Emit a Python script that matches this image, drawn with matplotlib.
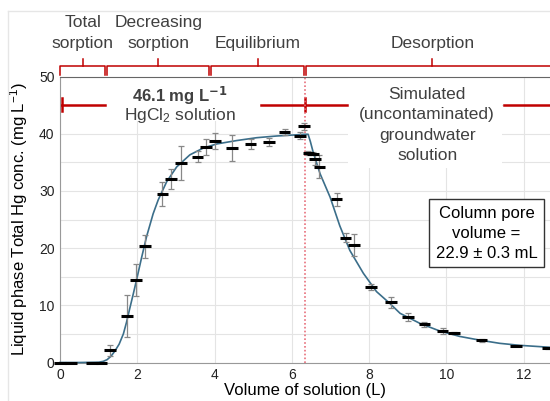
import matplotlib
matplotlib.use("Agg")
import matplotlib.pyplot as plt
from matplotlib.patches import Rectangle
from matplotlib.lines import Line2D

plt.rcParams['font.family'] = ['Liberation Sans', 'DejaVu Sans']
plt.rcParams['mathtext.default'] = 'regular'

# measured effluent concentrations (volume in L, conc. in mg/L)
vol = [0.0, 0.29, 0.83, 1.07, 1.29, 1.74, 1.97, 2.2, 2.65, 2.87, 3.13, 3.56, 3.78,
       4.01, 4.45, 4.93, 5.41, 5.81, 6.21, 6.32, 6.43, 6.55, 6.6, 6.71, 7.16,
       7.39, 7.61, 8.05, 8.56, 9.0, 9.43, 9.9, 10.19, 10.91, 11.8, 12.63]
conc = [0.0, 0.0, 0.0, 0.0, 2.1, 8.1, 14.4, 20.3, 29.4, 32.1, 34.9, 36.0, 37.7,
        38.7, 37.5, 38.2, 38.5, 40.3, 39.65, 41.3, 36.6, 36.5, 35.5, 34.2, 28.5,
        21.85, 20.6, 13.2, 10.5, 7.95, 6.65, 5.5, 5.1, 3.87, 2.9, 2.5]
conc_err = [0.0, 0.0, 0.0, 0.0, 1.0, 3.7, 2.8, 2.0, 2.1, 1.8, 3.0, 0.9, 1.4,
            1.45, 2.3, 0.8, 0.7, 0.5, 0.6, 0.6, 0.3, 0.3, 1.0, 2.0, 1.2,
            0.8, 1.9, 0.6, 1.0, 0.7, 0.5, 0.6, 0.2, 0.2, 0.1, 0.1]
vol_err = 0.15

# fitted breakthrough / desorption curve
fit_vol = [0.0, 0.5, 1.0, 1.12, 1.22, 1.32, 1.42, 1.53, 1.64, 1.72, 1.8, 1.9,
           2.0, 2.11, 2.24, 2.41, 2.54, 2.76, 3.02, 3.36, 3.71, 4.05, 4.57,
           5.09, 5.61, 6.12, 6.34, 6.42, 6.48, 6.55, 6.73, 6.99, 7.24, 7.5,
           7.85, 8.19, 8.54, 8.8, 9.31, 9.83, 10.35, 10.87, 11.38, 11.9, 12.7]
fit_conc = [0.0, 0.0, 0.05, 0.2, 0.5, 1.1, 2.0, 3.2, 5.0, 7.0, 9.3, 12.1,
            15.0, 18.3, 22.0, 26.0, 28.4, 31.6, 34.2, 36.3, 37.5, 38.2, 38.8,
            39.3, 39.6, 39.8, 39.9, 39.9, 38.6, 36.8, 33.0, 28.9, 23.9, 19.6,
            15.6, 12.4, 10.3, 8.6, 6.85, 5.5, 4.55, 3.9, 3.35, 3.0, 2.65]

# experiment phases
phase_names = ['Total\nsorption', 'Decreasing\nsorption', 'Equilibrium', 'Desorption']
phase_start = [0.0, 1.22, 3.92, 6.37]
phase_end = [1.17, 3.86, 6.31, 12.9]
switch_vol = 6.34
influent_level = 45.1

red = '#c00000'
fig = plt.figure(figsize=(5.5, 4.01), dpi=100)
ax = fig.add_axes([60 / 550, 1 - 362.5 / 401, 490 / 550, 286 / 401])
ax.set_xlim(0, 12.68)
ax.set_ylim(0, 50)

ax.set_xticks(range(0, 13, 2))
ax.set_yticks(range(0, 51, 10))
ax.set_yticks(range(5, 50, 10), minor=True)
ax.grid(True, which='both', color='#e4e4e4', lw=0.8, zorder=0)
ax.set_axisbelow(True)
ax.tick_params(length=0, labelsize=10, colors='#222222', pad=4)
ax.tick_params(which='minor', length=0)
for s in ['left', 'bottom']:
    ax.spines[s].set_color('#999999')
ax.spines['top'].set_color('#666666')
ax.spines['right'].set_visible(False)

ax.set_xlabel('Volume of solution (L)', fontsize=12, labelpad=1)
ax.set_ylabel('Liquid phase Total Hg conc. (mg L$^{-1}$)', fontsize=12, labelpad=6)

# white panels behind the annotations
ax.add_patch(Rectangle((1.16, 42.3), 4.04, 7.7, fc='white', ec='none', zorder=1))
ax.add_patch(Rectangle((7.45, 34.0), 4.0, 16.0, fc='white', ec='none', zorder=1))

# influent / groundwater line
ax.plot([0, 1.16], [influent_level] * 2, color=red, lw=1.8, zorder=2)
ax.plot([5.2, 7.43], [influent_level] * 2, color=red, lw=1.8, zorder=2)
ax.plot([11.5, 12.68], [influent_level] * 2, color=red, lw=1.8, zorder=2)
for xv in [0.05, switch_vol]:
    ax.plot([xv, xv], [influent_level - 1.2, influent_level + 1.2], color=red, lw=1.8, zorder=2)

ax.axvline(switch_vol, color='#e8707c', lw=1.2, ls=(0, (1, 1.3)), zorder=2)

ax.text(3.1, 46.7, '46.1 mg L$^{\\mathbf{-1}}$', fontsize=12, fontweight='bold',
        color='#404040', ha='center', va='center', zorder=3)
ax.text(3.1, 43.1, 'HgCl$_2$ solution', fontsize=12.5, color='#404040',
        ha='center', va='center', zorder=3)
ax.text(9.5, 41.5, 'Simulated\n(uncontaminated)\ngroundwater\nsolution', fontsize=12.5,
        color='#404040', ha='center', va='center', linespacing=1.45, zorder=3)

ax.text(11.04, 22.6, 'Column pore\nvolume =\n22.9 \u00b1 0.3 mL', fontsize=12, color='black',
        ha='center', va='center', linespacing=1.4, zorder=5,
        bbox=dict(boxstyle='square,pad=0.4', fc='white', ec='#333333', lw=1.0))

ax.plot(fit_vol, fit_conc, color='#3b6e8a', lw=1.2, zorder=3, clip_on=False)
ax.errorbar(vol, conc, yerr=conc_err, fmt='none', ecolor='#888888', elinewidth=0.9,
            capsize=2, capthick=0.9, zorder=4)
eb = ax.errorbar(vol, conc, xerr=vol_err, fmt='none', ecolor='black', elinewidth=2.2,
                 zorder=4)
for c in eb[2]:
    c.set_clip_on(False)

# phase brackets above the plot
for name, a, b in zip(phase_names, phase_start, phase_end):
    mid = (a + b) / 2
    ax.plot([a, a, b, b], [50.3, 51.75, 51.75, 50.3], color=red, lw=1.1, clip_on=False)
    ax.plot([mid, mid], [51.75, 53.1], color=red, lw=1.1, clip_on=False)
    ax.text(mid, 54.4, name, fontsize=12.5, color='#404040', ha='center', va='bottom',
            linespacing=1.5, clip_on=False)

# light frame round the figure
fig.add_artist(Line2D([7.5 / 550, 7.5 / 550], [0, 1 - 11 / 401], color='#e6e6e6', lw=1))
fig.add_artist(Line2D([7.5 / 550, 1], [1 - 11 / 401, 1 - 11 / 401], color='#e6e6e6', lw=1))

fig.savefig('out.png', dpi=100)
